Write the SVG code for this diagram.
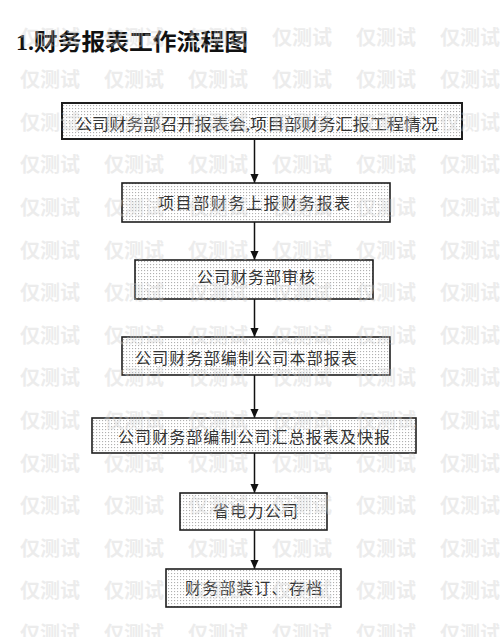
<svg xmlns="http://www.w3.org/2000/svg" xmlns:xlink="http://www.w3.org/1999/xlink" width="500" height="637" viewBox="0 0 500 637">
<style>
.box{fill:url(#dots);stroke:#1e1e1e;stroke-width:1.6}
.lbl{font-family:"Liberation Serif","Noto Sans CJK SC",serif;font-size:16px;fill:#333333;text-anchor:start}
.title{font-family:"Liberation Serif","Noto Sans CJK SC",serif;font-size:23px;font-weight:bold;fill:#111}
.wm{font-family:"Noto Sans CJK SC",sans-serif;font-size:20px;font-weight:bold;fill:#cfcfcf;opacity:0.38}
.conn{stroke:#111;stroke-width:1.5;fill:none;marker-end:url(#arr)}
</style>
<defs>
<pattern id="dots" width="3" height="3" patternUnits="userSpaceOnUse">
<rect width="3" height="3" fill="#ffffff"/>
<rect width="1.1" height="1.1" fill="#b0b0b0"/>
</pattern>
<marker id="arr" markerWidth="9" markerHeight="11" refX="10" refY="4.5" orient="auto" markerUnits="userSpaceOnUse" viewBox="0 0 10 9">
<path d="M0,0 L10,4.5 L0,9 z" fill="#111"/>
</marker>
<g id="wmrow">
<text class="wm" x="20" y="7">仅测试</text>
<text class="wm" x="104" y="7">仅测试</text>
<text class="wm" x="188" y="7">仅测试</text>
<text class="wm" x="272" y="7">仅测试</text>
<text class="wm" x="356" y="7">仅测试</text>
<text class="wm" x="440" y="7">仅测试</text>
</g>
</defs>
<rect width="500" height="637" fill="#ffffff"/>
<text class="title" x="16" y="50" textLength="232" lengthAdjust="spacingAndGlyphs">1.财务报表工作流程图</text>
<g id="connectors">
<line class="conn" x1="254.5" y1="139" x2="254.5" y2="183"/>
<line class="conn" x1="254.5" y1="222" x2="254.5" y2="260"/>
<line class="conn" x1="254.5" y1="299" x2="254.5" y2="337"/>
<line class="conn" x1="254.5" y1="375" x2="254.5" y2="418"/>
<line class="conn" x1="254.5" y1="453" x2="254.5" y2="493"/>
<line class="conn" x1="254.5" y1="530" x2="254.5" y2="569"/>
</g>
<g id="n1"><rect class="box" x="62" y="103" width="400" height="36" style="stroke-width:2"/><text class="lbl" x="75" y="130" textLength="363" lengthAdjust="spacingAndGlyphs">公司财务部召开报表会,项目部财务汇报工程情况</text></g>
<g id="n2"><rect class="box" x="122" y="183" width="268" height="39"/><text class="lbl" x="158" y="209" textLength="192">项目部财务上报财务报表</text></g>
<g id="n3"><rect class="box" x="135" y="260" width="238" height="39"/><text class="lbl" x="197" y="283" textLength="118">公司财务部审核</text></g>
<g id="n4"><rect class="box" x="122" y="337" width="268" height="38"/><text class="lbl" x="135" y="364" textLength="222">公司财务部编制公司本部报表</text></g>
<g id="n5"><rect class="box" x="92" y="418" width="324" height="35"/><text class="lbl" x="118" y="443" textLength="272">公司财务部编制公司汇总报表及快报</text></g>
<g id="n6"><rect class="box" x="180" y="493" width="147" height="37"/><text class="lbl" x="213" y="517" textLength="85">省电力公司</text></g>
<g id="n7"><rect class="box" x="166" y="569" width="175" height="38"/><text class="lbl" x="185" y="594" textLength="137">财务部装订、存档</text></g>
<g id="watermark">
<use xlink:href="#wmrow" y="37.5"/>
<use xlink:href="#wmrow" y="80.1"/>
<use xlink:href="#wmrow" y="122.7"/>
<use xlink:href="#wmrow" y="165.3"/>
<use xlink:href="#wmrow" y="207.9"/>
<use xlink:href="#wmrow" y="250.5"/>
<use xlink:href="#wmrow" y="293.1"/>
<use xlink:href="#wmrow" y="335.7"/>
<use xlink:href="#wmrow" y="378.3"/>
<use xlink:href="#wmrow" y="420.9"/>
<use xlink:href="#wmrow" y="463.5"/>
<use xlink:href="#wmrow" y="506.1"/>
<use xlink:href="#wmrow" y="548.7"/>
<use xlink:href="#wmrow" y="591.3"/>
<use xlink:href="#wmrow" y="633.9"/>
</g>
</svg>
